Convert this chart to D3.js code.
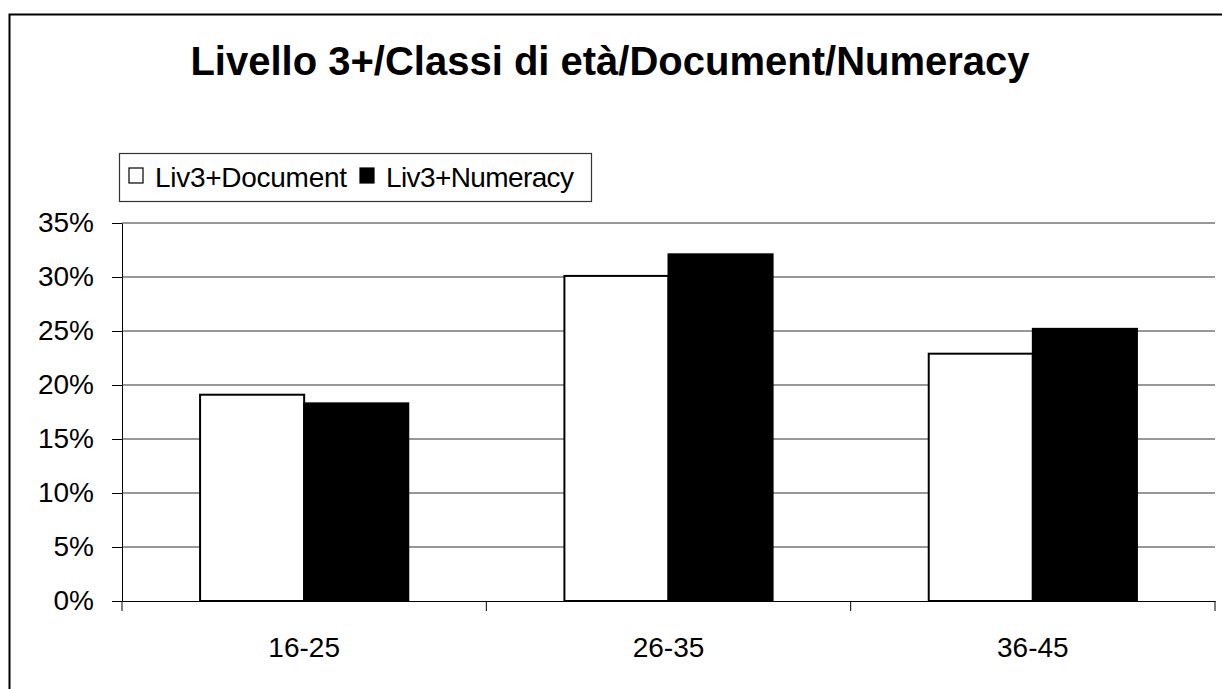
<!DOCTYPE html>
<html>
<head>
<meta charset="utf-8">
<script src="https://cdn.jsdelivr.net/npm/d3@7"></script>
<style>
  body { margin: 0; background: #fff; }
  svg { display: block; font-family: Arial, "Liberation Sans", sans-serif; }
</style>
</head>
<body>
<div id="chart-area"></div>
<script>
let width = 1222,
    height = 689;

// data
let categories = ["16-25", "26-35", "36-45"];
let seriesNames = ["Liv3+Document", "Liv3+Numeracy"];
let documentValues = [0.191, 0.301, 0.229];
let numeracyValues = [0.183, 0.321, 0.252];
let yTicks = [0, 0.05, 0.10, 0.15, 0.20, 0.25, 0.30, 0.35];
let fills = ["#ffffff", "#000000"];

let svg = d3.select("#chart-area").append("svg")
    .attr("width", width)
    .attr("height", height);

// outer frame (runs off the right and bottom edges)
svg.append("rect")
    .attr("x", 9.5).attr("y", 14.5)
    .attr("width", 1240).attr("height", 700)
    .attr("fill", "none")
    .attr("stroke", "#000")
    .attr("stroke-width", 2);

// title
svg.append("text")
    .attr("x", 610).attr("y", 75)
    .attr("text-anchor", "middle")
    .attr("font-size", 40)
    .attr("font-weight", "bold")
    .text("Livello 3+/Classi di età/Document/Numeracy");

let plotLeft = 122, plotRight = 1215, plotTop = 223, plotBottom = 601;

let x = d3.scaleBand()
    .domain(categories)
    .range([plotLeft, plotRight]);

let x1 = d3.scaleBand()
    .domain(seriesNames)
    .range([0, x.bandwidth()])
    .paddingOuter(0.75)
    .paddingInner(0);

let y = d3.scaleLinear()
    .domain([0, 0.35])
    .range([plotBottom, plotTop]);

// y axis
let yAxis = svg.append("g")
    .attr("transform", `translate(${plotLeft},0)`)
    .call(d3.axisLeft(y).tickValues(yTicks).tickFormat(d3.format(".0%"))
      .tickSize(10).tickSizeOuter(0));
yAxis.select(".domain").attr("stroke", "#000");
yAxis.selectAll(".tick line").attr("stroke", "#000");
yAxis.selectAll(".tick text")
    .attr("x", -28)
    .attr("dy", "0.29em")
    .attr("font-size", 28)
    .attr("fill", "#000")
    .attr("font-family", "Arial, 'Liberation Sans', sans-serif");

// gridlines
svg.append("g")
    .selectAll("line")
    .data(yTicks.filter(d => d > 0))
    .enter().append("line")
    .attr("x1", plotLeft).attr("x2", plotRight)
    .attr("y1", d => y(d)).attr("y2", d => y(d))
    .attr("stroke", "#333")
    .attr("stroke-width", 1.2);

// bars
let rows = categories.map((c, i) => ({
  cat: c,
  vals: [
    {name: seriesNames[0], v: documentValues[i], fill: fills[0]},
    {name: seriesNames[1], v: numeracyValues[i], fill: fills[1]}
  ]
}));

svg.append("g")
    .selectAll("g")
    .data(rows)
    .enter().append("g")
    .attr("transform", d => `translate(${x(d.cat)},0)`)
    .selectAll("rect")
    .data(d => d.vals)
    .enter().append("rect")
    .attr("x", d => x1(d.name))
    .attr("y", d => y(d.v))
    .attr("width", x1.bandwidth())
    .attr("height", d => plotBottom - y(d.v))
    .attr("fill", d => d.fill)
    .attr("stroke", "#000")
    .attr("stroke-width", 2);

// x axis
let xAxis = svg.append("g")
    .attr("transform", `translate(0,${plotBottom})`)
    .call(d3.axisBottom(x).tickSize(0).tickSizeOuter(0));
xAxis.select(".domain").attr("stroke", "#000").attr("stroke-width", 1.2);
xAxis.selectAll(".tick text")
    .attr("y", 56)
    .attr("dy", 0)
    .attr("font-size", 28)
    .attr("fill", "#000")
    .attr("font-family", "Arial, 'Liberation Sans', sans-serif");

// category separators
let seps = categories.map(c => x(c)).concat([plotRight]);
svg.append("g")
    .selectAll("line")
    .data(seps)
    .enter().append("line")
    .attr("x1", d => d).attr("x2", d => d)
    .attr("y1", plotBottom).attr("y2", plotBottom + 10)
    .attr("stroke", "#000");

// legend
let legend = svg.append("g").attr("transform", "translate(119,153)");
legend.append("rect")
    .attr("x", 0.5).attr("y", 0.5)
    .attr("width", 472).attr("height", 48)
    .attr("fill", "#fff")
    .attr("stroke", "#333")
    .attr("stroke-width", 1.2);

let items = legend.selectAll(".item")
    .data(seriesNames)
    .enter().append("g")
    .attr("class", "item")
    .attr("transform", (d, i) => `translate(${i === 0 ? 10 : 241},0)`);
items.append("rect")
    .attr("x", 0).attr("y", 15)
    .attr("width", 14).attr("height", 15)
    .attr("fill", (d, i) => fills[i])
    .attr("stroke", "#000")
    .attr("stroke-width", 1.2);
items.append("text")
    .attr("x", 26).attr("y", 34)
    .attr("font-size", 28)
    .attr("textLength", (d, i) => i === 0 ? 192 : 188)
    .text(d => d);
</script>
</body>
</html>
